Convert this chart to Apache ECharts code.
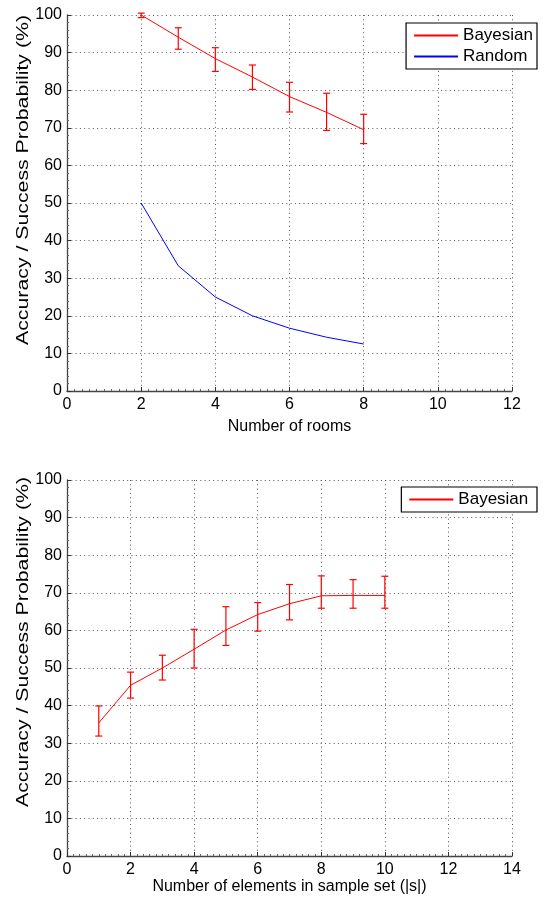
<!DOCTYPE html>
<html><head><meta charset="utf-8">
<script src="https://cdn.jsdelivr.net/npm/echarts@6/dist/echarts.min.js"></script>
<style>html,body{margin:0;padding:0;background:#fff}#c{width:559px;height:902px}</style>
</head><body><div id="c"></div>
<script>
// Top chart data
const roomsX = [2, 3, 4, 5, 6, 7, 8];
const bayesRooms = [100, 94.1, 88.4, 83.5, 78.3, 74.1, 69.5];
const bayesRoomsLow = [99.3, 90.9, 85.0, 80.2, 74.2, 69.3, 65.8];
const bayesRoomsHigh = [100.5, 96.6, 91.3, 86.7, 82.1, 79.2, 73.6];
const randomRooms = [50, 33.3, 25, 20, 16.7, 14.3, 12.5];
// Bottom chart data
const sampleX = [1, 2, 3, 4, 5, 6, 7, 8, 9, 10];
const bayesSample = [35.4, 45.4, 50.0, 55.0, 60.1, 64.2, 67.1, 69.2, 69.3, 69.3];
const bayesSampleLow = [31.9, 42.0, 46.8, 50.0, 56.0, 59.8, 62.8, 65.9, 65.9, 65.9];
const bayesSampleHigh = [39.9, 48.9, 53.4, 60.3, 66.3, 67.4, 72.2, 74.5, 73.5, 74.4];
const yTicks = [0, 10, 20, 30, 40, 50, 60, 70, 80, 90, 100];
const yName = 'Accuracy / Success Probability (%)';

const FONT = "'Liberation Sans', Arial, sans-serif";
const dotted = {color: '#555', type: [1, 3.3], width: 1};

function xAxis(gi, max, name, gap) {
  return {
    gridIndex: gi, type: 'value', min: 0, max: max, interval: 2,
    name: name, nameLocation: 'middle', nameGap: gap,
    nameTextStyle: {color: '#000', fontSize: 16, fontFamily: FONT},
    axisLine: {show: true, lineStyle: {color: '#444', width: 1.3}},
    axisTick: {show: true, inside: true, length: 4, lineStyle: {color: '#333'}},
    minorTick: {show: true, splitNumber: 10, length: 2, lineStyle: {color: '#666'}},
    axisLabel: {color: '#000', fontSize: 16, fontFamily: FONT, margin: 6},
    splitLine: {show: true, lineStyle: dotted}
  };
}
function yAxis(gi) {
  return {
    gridIndex: gi, type: 'value', min: 0, max: 100, interval: 10,
    axisLine: {show: true, lineStyle: {color: '#444', width: 1.3}},
    axisTick: {show: true, inside: true, length: 4, lineStyle: {color: '#333'}},
    minorTick: {show: true, splitNumber: 5, length: 2, lineStyle: {color: '#666'}},
    axisLabel: {color: '#000', fontSize: 16, fontFamily: FONT, margin: 5,
      formatter: v => (yTicks.indexOf(v) >= 0 ? String(v) : '')},
    splitLine: {show: true, lineStyle: dotted}
  };
}
function errSeries(gi, xs, lo, hi) {
  return {
    type: 'custom', xAxisIndex: gi, yAxisIndex: gi, silent: true, clip: false,
    data: xs.map((x, i) => [x, lo[i], hi[i]]),
    renderItem: function (params, api) {
      const p1 = api.coord([api.value(0), api.value(1)]);
      const p2 = api.coord([api.value(0), api.value(2)]);
      const w = 3.5;
      const st = {stroke: '#ff0000', lineWidth: 1.2};
      return {type: 'group', children: [
        {type: 'line', shape: {x1: p1[0], y1: p1[1], x2: p2[0], y2: p2[1]}, style: st},
        {type: 'line', shape: {x1: p1[0] - w, y1: p1[1], x2: p1[0] + w, y2: p1[1]}, style: st},
        {type: 'line', shape: {x1: p2[0] - w, y1: p2[1], x2: p2[0] + w, y2: p2[1]}, style: st}
      ]};
    }
  };
}
function lineSeries(gi, name, xs, ys, color) {
  return {
    type: 'line', name: name, xAxisIndex: gi, yAxisIndex: gi,
    data: xs.map((x, i) => [x, ys[i]]), symbol: 'none', clip: false,
    lineStyle: {color: color, width: 1}, itemStyle: {color: color, borderColor: color}, animation: false
  };
}
function legendItem(name, color) {
  return {name: name, icon: 'path://M0,0H44V2H0Z', itemStyle: {color: color, borderColor: color, borderWidth: 0}};
}
const legendBase = {
  orient: 'vertical', right: 22, borderColor: '#000', borderWidth: 1.2,
  backgroundColor: '#fff', padding: [4, 4, 4, 8], itemGap: 4,
  itemWidth: 44, itemHeight: 2, textStyle: {color: '#000', fontSize: 17, fontFamily: FONT}
};
function yLabel(cy) {
  return {type: 'text', x: 24, y: cy, rotation: Math.PI / 2, scaleX: 1.33, scaleY: 1,
    style: {text: yName, font: "16px 'Liberation Sans', Arial, sans-serif", fill: '#000', align: 'center', verticalAlign: 'middle'}};
}

const chart = echarts.init(document.getElementById('c'), null, {renderer: 'canvas'});
chart.setOption({
  animation: false,
  grid: [
    {left: 67, right: 47, top: 15, height: 376},
    {left: 67, right: 47, top: 480, height: 376}
  ],
  xAxis: [xAxis(0, 12, 'Number of rooms', 28), xAxis(1, 14, 'Number of elements in sample set (|s|)', 22)],
  yAxis: [yAxis(0), yAxis(1)],
  legend: [
    Object.assign({}, legendBase, {top: 23, data: [legendItem('Bayesian', '#ff0000'), legendItem('Random', '#0000ff')]}),
    Object.assign({}, legendBase, {top: 487, data: [legendItem('Bayesian ', '#ff0000')]})
  ],
  graphic: [yLabel(180), yLabel(642)],
  series: [
    lineSeries(0, 'Bayesian', roomsX, bayesRooms, '#ff0000'),
    lineSeries(0, 'Random', roomsX, randomRooms, '#0000ff'),
    errSeries(0, roomsX, bayesRoomsLow, bayesRoomsHigh),
    lineSeries(1, 'Bayesian ', sampleX, bayesSample, '#ff0000'),
    errSeries(1, sampleX, bayesSampleLow, bayesSampleHigh)
  ]
});
</script></body></html>
